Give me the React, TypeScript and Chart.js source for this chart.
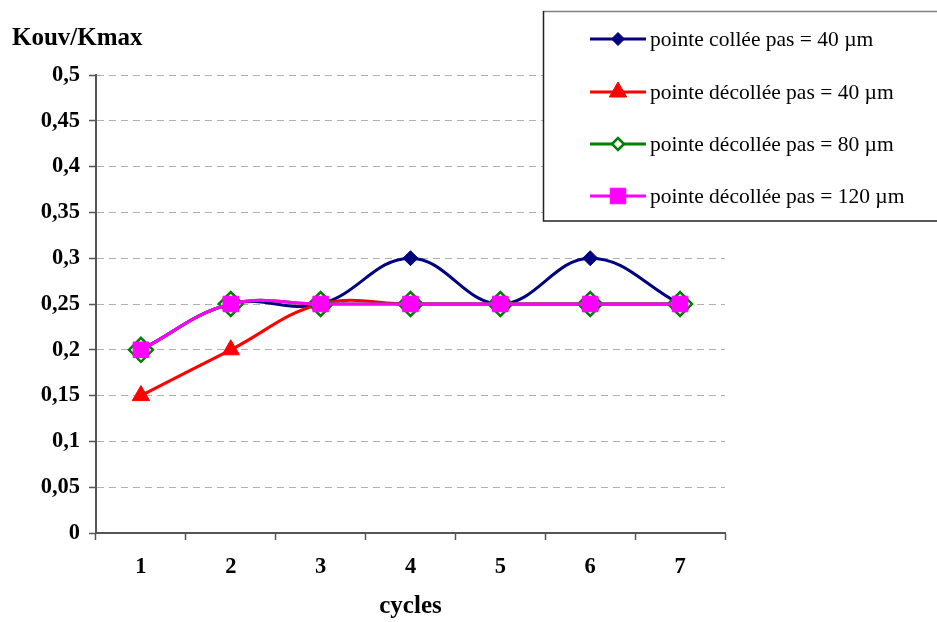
import React, { useEffect, useRef } from 'react';
import { Chart, registerables } from 'chart.js';

Chart.register(...registerables);

const categories = ['1', '2', '3', '4', '5', '6', '7'];
const colleePas40 = [0.2, 0.25, 0.25, 0.3, 0.25, 0.3, 0.25];
const decolleePas40 = [0.15, 0.2, 0.25, 0.25, 0.25, 0.25, 0.25];
const decolleePas80 = [0.2, 0.25, 0.25, 0.25, 0.25, 0.25, 0.25];
const decolleePas120 = [0.2, 0.25, 0.25, 0.25, 0.25, 0.25, 0.25];
const seriesNames = [
  'pointe collée pas = 40 µm',
  'pointe décollée pas = 40 µm',
  'pointe décollée pas = 80 µm',
  'pointe décollée pas = 120 µm',
];
const yTickLabels = ['0', '0,05', '0,1', '0,15', '0,2', '0,25', '0,3', '0,35', '0,4', '0,45', '0,5'];
const yAxisTitle = 'Kouv/Kmax';
const xAxisTitle = 'cycles';

const SERIF = "'Liberation Serif', 'Times New Roman', serif";

type Style = { color: string; shape: string; fill: string; r: number; lr: number; bw: number };
const styles: Style[] = [
  { color: '#000080', shape: 'diamond', fill: '#000080', r: 7.5, lr: 6.5, bw: 1 },
  { color: '#FF0000', shape: 'triangle', fill: '#FF0000', r: 10, lr: 10, bw: 1 },
  { color: '#008000', shape: 'diamond', fill: '#FFFFFF', r: 12, lr: 6, bw: 2.5 },
  { color: '#FF00FF', shape: 'square', fill: '#FF00FF', r: 11, lr: 11, bw: 1 },
];

function drawMarker(ctx: CanvasRenderingContext2D, s: Style, x: number, y: number, r: number) {
  ctx.save();
  ctx.beginPath();
  if (s.shape === 'diamond') {
    ctx.moveTo(x - r, y);
    ctx.lineTo(x, y - r);
    ctx.lineTo(x + r, y);
    ctx.lineTo(x, y + r);
    ctx.closePath();
  } else if (s.shape === 'triangle') {
    const a = (2 * Math.PI) / 3;
    ctx.moveTo(x, y - r);
    ctx.lineTo(x + Math.sin(a) * r, y - Math.cos(a) * r);
    ctx.lineTo(x + Math.sin(2 * a) * r, y - Math.cos(2 * a) * r);
    ctx.closePath();
  } else {
    const h = r * Math.SQRT1_2;
    ctx.rect(x - h, y - h, 2 * h, 2 * h);
  }
  ctx.fillStyle = s.fill;
  ctx.fill();
  ctx.lineWidth = s.bw;
  ctx.strokeStyle = s.color;
  ctx.stroke();
  ctx.restore();
}

const decorPlugin = {
  id: 'decor',
  afterDraw(chart: any) {
    const ctx: CanvasRenderingContext2D = chart.ctx;
    ctx.save();
    // y axis title
    ctx.font = `bold 25px ${SERIF}`;
    ctx.fillStyle = '#000';
    ctx.textAlign = 'left';
    ctx.textBaseline = 'alphabetic';
    ctx.fillText(yAxisTitle, 12, 45);

    // legend box
    const bx = 543, by = 11, bw = 400, bh = 210;
    ctx.fillStyle = '#fff';
    ctx.fillRect(bx, by, bw, bh);
    ctx.lineWidth = 1.5;
    ctx.strokeStyle = '#808080';
    ctx.beginPath();
    ctx.moveTo(bx, by + 0.5);
    ctx.lineTo(bx + bw, by + 0.5);
    ctx.stroke();
    ctx.lineWidth = 1.5;
    ctx.strokeStyle = '#222';
    ctx.beginPath();
    ctx.moveTo(bx + 0.5, by);
    ctx.lineTo(bx + 0.5, by + bh);
    ctx.lineTo(bx + bw, by + bh);
    ctx.stroke();

    const ys = [39, 92, 144, 196];
    seriesNames.forEach((name, i) => {
      const s = styles[i];
      const y = ys[i];
      ctx.lineWidth = 3;
      ctx.strokeStyle = s.color;
      ctx.beginPath();
      ctx.moveTo(590, y);
      ctx.lineTo(646, y);
      ctx.stroke();
      drawMarker(ctx, s, 618, y, s.lr);
      ctx.fillStyle = '#000';
      ctx.font = `21.5px ${SERIF}`;
      ctx.textAlign = 'left';
      ctx.textBaseline = 'middle';
      ctx.fillText(name, 650, y + 1);
    });
    ctx.restore();
  },
};

export default function App() {
  const ref = useRef<HTMLCanvasElement | null>(null);

  useEffect(() => {
    if (!ref.current) return;
    const seriesData = [colleePas40, decolleePas40, decolleePas80, decolleePas120];
    const datasets = seriesData.map((d, i) => {
      const s = styles[i];
      return {
        label: seriesNames[i],
        data: d,
        borderColor: s.color,
        backgroundColor: s.fill,
        borderWidth: 3,
        pointStyle: s.shape === 'diamond' ? 'rectRot' : s.shape === 'triangle' ? 'triangle' : 'rect',
        pointRadius: s.r,
        pointHoverRadius: s.r,
        pointBackgroundColor: s.fill,
        pointBorderColor: s.color,
        pointBorderWidth: s.bw,
        tension: 0.4,
        fill: false,
        order: 4 - i,
        clip: false as any,
      };
    });

    const tickFont = { family: SERIF, weight: 'bold' as const, size: 22.5 };

    const chart = new Chart(ref.current, {
      type: 'line',
      data: { labels: categories, datasets },
      options: {
        animation: false,
        responsive: false,
        devicePixelRatio: 1,
        layout: { padding: { left: 0, top: 75, right: 212, bottom: 0 } },
        plugins: {
          legend: { display: false },
          tooltip: { enabled: false },
        },
        scales: {
          x: {
            offset: true,
            grid: {
              offset: true,
              drawOnChartArea: false,
              drawTicks: true,
              tickLength: 7,
              tickColor: '#555',
              tickWidth: 1.5,
            },
            border: { color: '#555', width: 2 },
            ticks: { font: tickFont, color: '#000', padding: 14, maxRotation: 0 },
            title: {
              display: true,
              text: xAxisTitle,
              color: '#000',
              font: { family: SERIF, weight: 'bold', size: 25 },
              padding: { top: 0, bottom: 0 },
            },
            afterFit: (s: any) => {
              s.height = 89;
            },
          },
          y: {
            min: 0,
            max: 0.5,
            ticks: {
              stepSize: 0.05,
              font: tickFont,
              color: '#000',
              padding: 9,
              callback: (_v: any, i: number) => yTickLabels[i],
            },
            grid: {
              color: '#b0b0b0',
              lineWidth: 1,
              tickLength: 7,
              tickColor: '#555',
              tickWidth: 1.5,
              tickBorderDash: [],
            },
            border: { color: '#555', width: 2, dash: [7, 5] },
            afterFit: (s: any) => {
              s.width = 96;
            },
          },
        },
      },
      plugins: [decorPlugin],
    } as any);
    return () => chart.destroy();
  }, []);

  return (
    <div style={{ position: 'absolute', left: 0, top: 0, width: 937, height: 622, background: '#fff' }}>
      <canvas ref={ref} width={937} height={622} style={{ display: 'block' }} />
    </div>
  );
}
